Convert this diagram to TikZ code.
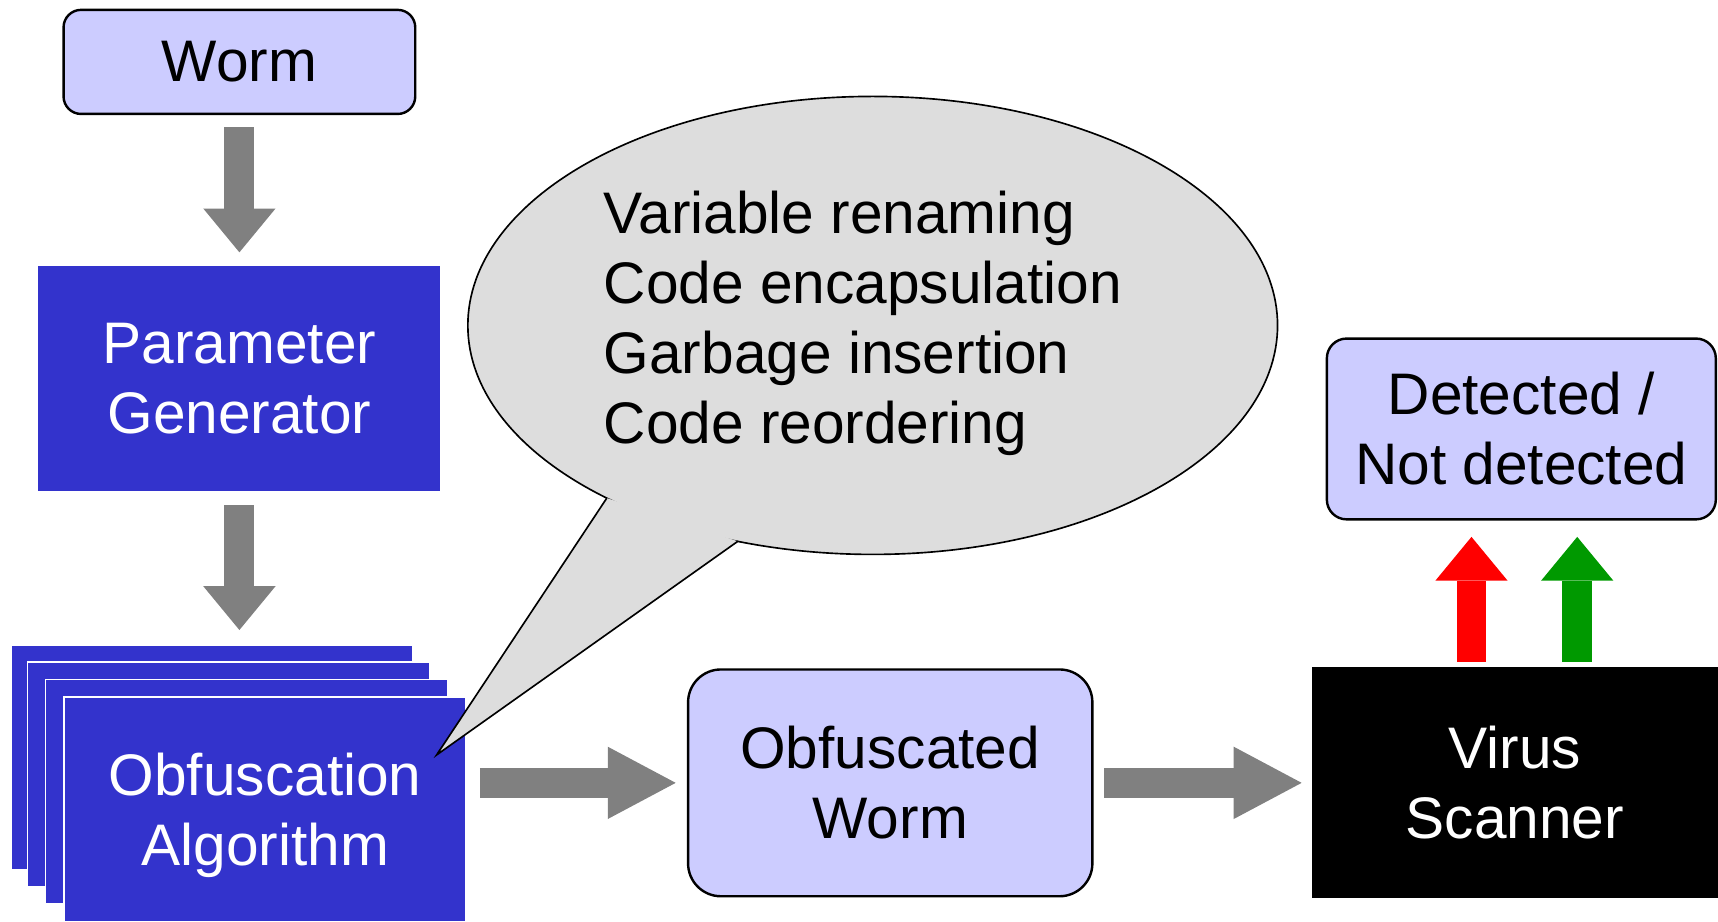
\documentclass[tikz,border=0pt]{standalone}
\usepackage{fontspec}
\setmainfont{Liberation Sans}
\usetikzlibrary{arrows.meta,shapes.geometric}

\definecolor{boxblue}{HTML}{3333CC}
\definecolor{paleblue}{HTML}{CCCCFF}
\definecolor{arrowgrey}{HTML}{808080}
\definecolor{bubblegrey}{HTML}{DDDDDD}
\definecolor{okgreen}{HTML}{009900}

\begin{document}
\begin{tikzpicture}[x=1pt,y=-1pt,
  every node/.style={inner sep=0pt, outer sep=0pt, align=center,
    font=\fontsize{53.5}{64}\selectfont},
  softbox/.style={draw=black, line width=2.2pt, fill=paleblue, rounded corners=#1},
  softbox/.default=16pt,
  bluebox/.style={fill=boxblue, text=white, minimum width=367pt, minimum height=205pt},
  stackcard/.style={bluebox, draw=white, line width=1.5pt},
  downarrow/.style={draw=arrowgrey, line width=27.5pt,
    -{Triangle[width=66pt,length=40pt,line width=0pt]}},
  sidearrow/.style={draw=arrowgrey, line width=27.5pt,
    -{Triangle[width=66pt,length=62pt,line width=0pt]}},
  uparrow/.style={line width=27pt,
    -{Triangle[width=66pt,length=40pt,line width=0pt]}}]

  \useasboundingbox (0,0) rectangle (1568,841);

  % input worm and parameter generator
  \node[softbox, minimum width=321pt, minimum height=95pt] (worm) at (218.5,56.5) {Worm};
  \node[bluebox] (paramgen) at (218.5,345.5) {Parameter\\Generator};

  % stack of obfuscation algorithms
  \node[stackcard] (obfA) at (193.5,691.5) {};
  \node[stackcard] (obfB) at (208.5,706.5) {};
  \node[stackcard] (obfC) at (225,722.5) {};
  \node[stackcard, text depth=0pt] (obfD) at (242,738.5) {Obfuscation\\Algorithm};

  % output side
  \node[softbox=30pt, minimum width=369pt, minimum height=207pt] (obfworm) at (812.5,714.5) {Obfuscated\\Worm};
  \node[fill=black, text=white, minimum width=371pt, minimum height=211pt] (scanner) at (1382.5,714.5) {Virus\\Scanner};
  \node[softbox=18pt, minimum width=355pt, minimum height=165pt] (verdict) at (1388.5,391.5) {Detected /\\Not detected};

  % speech bubble listing the transformations
  \node[ellipse, draw=black, line width=1.5pt, fill=bubblegrey,
        minimum width=739pt, minimum height=418pt] (bubble) at (796.5,297) {};
  \coordinate (tip) at (398.5,689);
  \fill[bubblegrey] (bubble.213.3) -- (tip) -- (bubble.238.9) -- cycle;
  \draw[line width=1.5pt, line join=miter] (bubble.213.3) -- (tip) -- (bubble.238.9);
  \node[anchor=north west, align=left] (techniques) at (551,174)
    {Variable renaming\\Code encapsulation\\Garbage insertion\\Code reordering};

  % flow arrows
  \draw[downarrow, shorten <=12pt, shorten >=12.7pt] (worm.south) -- (paramgen.north);
  \draw[downarrow, shorten <=13pt, shorten >=14pt] (paramgen.south) -- (paramgen.south |- obfA.north);
  \draw[sidearrow, shorten <=12.5pt, shorten >=11.3pt] (obfD.east |- obfworm.west) -- (obfworm.west);
  \draw[sidearrow, shorten <=11pt, shorten >=9pt] (obfworm.east) -- (scanner.west);
  \draw[uparrow, draw=red, shorten <=5pt, shorten >=16pt]
    ([xshift=-39.5pt]scanner.north) -- ([xshift=-39.5pt]scanner.north |- verdict.south);
  \draw[uparrow, draw=okgreen, shorten <=5pt, shorten >=16pt]
    ([xshift=57pt]scanner.north) -- ([xshift=57pt]scanner.north |- verdict.south);
\end{tikzpicture}
\end{document}
